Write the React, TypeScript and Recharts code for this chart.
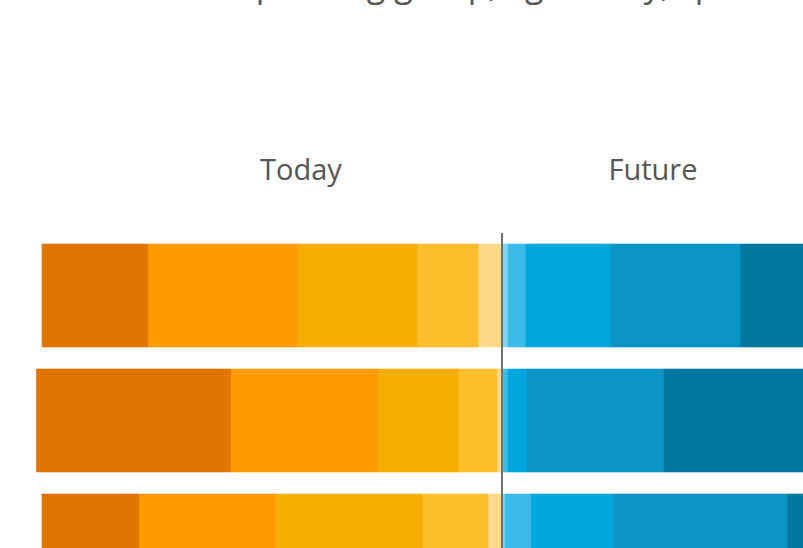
import { Bar, BarChart, ReferenceLine, XAxis, YAxis } from "recharts";

// rows of the chart (labels are not visible in the crop)
const groups = ["Group A", "Group B", "Group C"];

// today, % per level, level 1 = outermost (darkest orange)
const today1 = [23.0, 42.2, 21.1];
const today2 = [32.6, 32.0, 29.6];
const today3 = [25.9, 17.6, 32.0];
const today4 = [13.3, 8.3, 14.3];
const today5 = [5.2, 1.1, 3.0];

// future, % per level, level 1 = innermost (lightest blue)
const future1 = [1.3, 0.3, 0.7];
const future2 = [3.9, 1.0, 5.7];
const future3 = [18.3, 4.1, 17.8];
const future4 = [28.3, 29.8, 37.8];
const future5 = [48.2, 64.8, 38.0];

const sideLabels = ["Today", "Future"];
const title = "How each spending group, age today, spends in future";

const data = groups.map((name, i) => ({
  name,
  t5: -today5[i],
  t4: -today4[i],
  t3: -today3[i],
  t2: -today2[i],
  t1: -today1[i],
  f1: future1[i],
  f2: future2[i],
  f3: future3[i],
  f4: future4[i],
  f5: future5[i],
}));

// inner segments first so they sit next to the zero line
const series = [
  { key: "t5", color: "#FED98A" },
  { key: "t4", color: "#FDBE2E" },
  { key: "t3", color: "#F5AE00" },
  { key: "t2", color: "#FF9C00" },
  { key: "t1", color: "#E27400" },
  { key: "f1", color: "#7FD4F4" },
  { key: "f2", color: "#3BBBE8" },
  { key: "f3", color: "#00A6DE" },
  { key: "f4", color: "#0A95C7" },
  { key: "f5", color: "#00779F" },
];

const CenterLine = (props: any) => (
  <line
    x1={props.x1}
    x2={props.x2}
    y1={props.y1 - 13}
    y2={props.y2}
    stroke="#707070"
    strokeWidth={2}
  />
);

export default function App() {
  return (
    <div
      style={{
        position: "fixed",
        left: 0,
        top: 0,
        width: 803,
        height: 548,
        overflow: "hidden",
        background: "#ffffff",
      }}
    >
      <div style={{ position: "absolute", left: -4, top: 0 }}>
        <BarChart
          width={1012}
          height={608}
          data={data}
          layout="vertical"
          stackOffset="sign"
          margin={{ top: 233, right: 0, bottom: 0, left: 0 }}
        >
          <XAxis type="number" domain={[-110, 110]} hide />
          <YAxis type="category" dataKey="name" hide />
          {series.map((s) => (
            <Bar
              key={s.key}
              dataKey={s.key}
              stackId="a"
              fill={s.color}
              stroke={s.color}
              strokeWidth={0.6}
              barSize={103}
              isAnimationActive={false}
            />
          ))}
          <ReferenceLine x={0} shape={CenterLine} />
        </BarChart>
      </div>
      <svg
        width={803}
        height={548}
        style={{ position: "absolute", left: 0, top: 0, pointerEvents: "none" }}
        fontFamily="'Open Sans', sans-serif"
      >
        <text x={75} y={-3} fontSize={34} fill="#555555">
          {title}
        </text>
        <text x={301} y={180} fontSize={29} fill="#555555" textAnchor="middle">
          {sideLabels[0]}
        </text>
        <text x={653} y={180} fontSize={29} fill="#555555" textAnchor="middle">
          {sideLabels[1]}
        </text>
      </svg>
    </div>
  );
}
